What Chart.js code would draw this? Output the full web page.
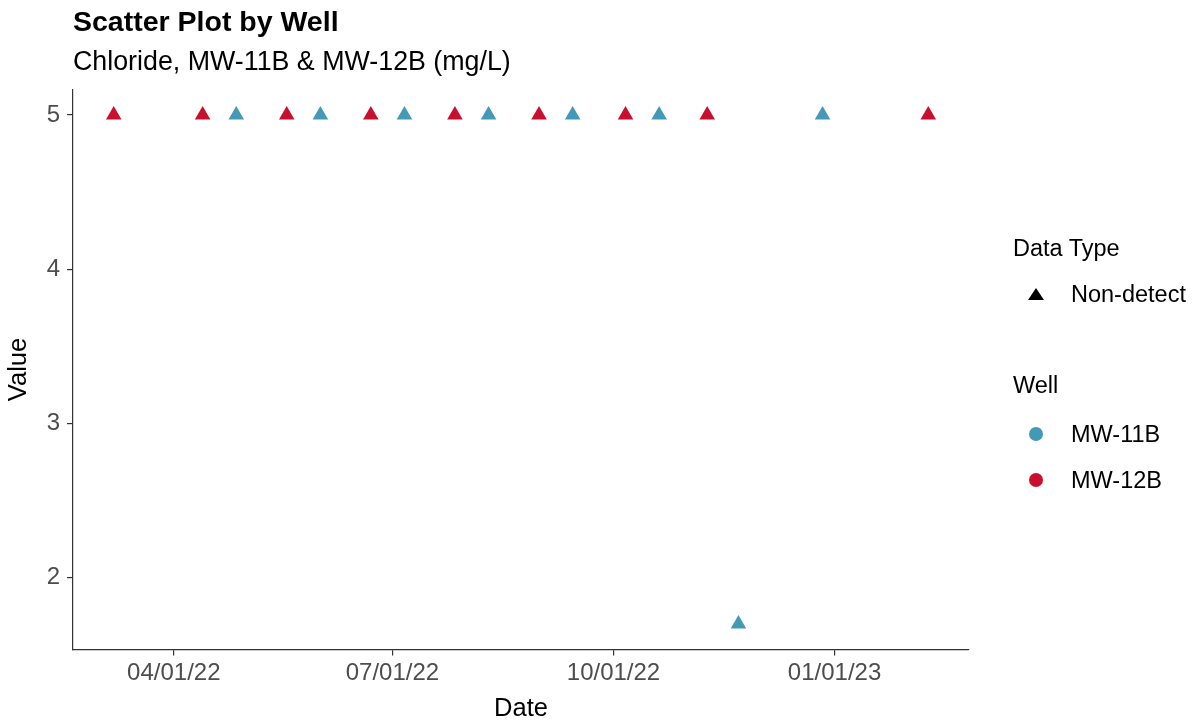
<!DOCTYPE html>
<html>
<head>
<meta charset="utf-8">
<script src="https://cdn.jsdelivr.net/npm/chart.js@4.4.0/dist/chart.umd.min.js"></script>
<style>
  html, body { margin: 0; padding: 0; background: #fff; }
  body { width: 1197px; height: 724px; position: relative; overflow: hidden;
         font-family: "Liberation Sans", Arial, sans-serif; color: #000; }
  #wrap { position: absolute; left: 0; top: 0; width: 1197px; height: 724px; }
  .title { position: absolute; left: 73px; top: 5px; font-size: 28.5px; font-weight: bold; white-space: nowrap; }
  .subtitle { position: absolute; left: 73px; top: 46px; font-size: 26.8px; white-space: nowrap; }
  .lg { position: absolute; font-size: 23.5px; white-space: nowrap; }
  .key { position: absolute; }
</style>
</head>
<body>
<div id="wrap"><canvas id="c" width="1197" height="724"></canvas></div>
<div class="title">Scatter Plot by Well</div>
<div class="subtitle">Chloride, MW-11B &amp; MW-12B (mg/L)</div>
<div id="legend"></div>
<script>
'use strict';

// данные
const wellNames = ['MW-11B', 'MW-12B'];
const wellColors = ['#4499B7', '#C8102E'];

const datesMW11B = ['2022-04-27', '2022-06-01', '2022-07-06', '2022-08-10',
    '2022-09-14', '2022-10-20', '2022-11-22', '2022-12-27'];
const valuesMW11B = [5, 5, 5, 5, 5, 5, 1.7, 5];

const datesMW12B = ['2022-03-07', '2022-04-13', '2022-05-18', '2022-06-22',
    '2022-07-27', '2022-08-31', '2022-10-06', '2022-11-09', '2023-02-09'];
const valuesMW12B = [5, 5, 5, 5, 5, 5, 5, 5, 5];

const xTickDates = ['2022-04-01', '2022-07-01', '2022-10-01', '2023-01-01'];
const yTicks = [2, 3, 4, 5];

// дни от 1970-01-01
function toDay(s) {
    let p = s.split('-').map(Number);
    return Date.UTC(p[0], p[1] - 1, p[2]) / 86400000;
}
function fmtDay(d) {
    let dt = new Date(d * 86400000);
    let mm = String(dt.getUTCMonth() + 1).padStart(2, '0');
    let dd = String(dt.getUTCDate()).padStart(2, '0');
    let yy = String(dt.getUTCFullYear()).slice(2);
    return mm + '/' + dd + '/' + yy;
}
function points(dates, values) {
    return dates.map((d, i) => ({ x: toDay(d), y: values[i] }));
}

const allDays = datesMW11B.concat(datesMW12B).map(toDay);
const allVals = valuesMW11B.concat(valuesMW12B);
const dMin = Math.min(...allDays), dMax = Math.max(...allDays);
const vMin = Math.min(...allVals), vMax = Math.max(...allVals);
// расширение как в ggplot: 5% от диапазона
const xPad = (dMax - dMin) * 0.05, yPad = (vMax - vMin) * 0.05;

const tickFont = { family: 'Liberation Sans', size: 24 };
const axisTitleFont = { family: 'Liberation Sans', size: 25.5 };
const tickColor = '#4d4d4d';

function wellDataset(i, dates, values) {
    return {
        label: wellNames[i],
        data: points(dates, values),
        backgroundColor: wellColors[i],
        borderWidth: 0,
        pointStyle: 'triangle',
        pointRadius: 9,
        pointHoverRadius: 9,
    };
}

new Chart(document.getElementById('c').getContext('2d'), {
    type: 'scatter',
    data: {
        datasets: [
            wellDataset(0, datesMW11B, valuesMW11B),
            wellDataset(1, datesMW12B, valuesMW12B),
        ],
    },
    options: {
        responsive: false,
        animation: false,
        layout: { padding: { top: 89.5, right: 228, left: 0, bottom: 0 } },
        plugins: { legend: { display: false }, tooltip: { enabled: false } },
        scales: {
            x: {
                type: 'linear',
                min: dMin - xPad,
                max: dMax + xPad,
                afterBuildTicks: (s) => { s.ticks = xTickDates.map((d) => ({ value: toDay(d) })); },
                afterFit: (s) => { s.height = 74.5; },
                ticks: { callback: (v) => fmtDay(v), color: tickColor, font: tickFont, padding: 3, maxRotation: 0, autoSkip: false },
                grid: { drawOnChartArea: false, drawTicks: true, tickLength: 6, color: '#333', lineWidth: 1.2 },
                border: { display: true, color: '#333', width: 1.2 },
                title: { display: true, text: 'Date', color: '#000', font: axisTitleFont, padding: { top: 0, bottom: 0 } },
            },
            y: {
                type: 'linear',
                min: vMin - yPad,
                max: vMax + yPad,
                afterBuildTicks: (s) => { s.ticks = yTicks.map((v) => ({ value: v })); },
                afterFit: (s) => { s.width = 73; },
                ticks: { color: tickColor, font: tickFont, padding: 7 },
                grid: { drawOnChartArea: false, drawTicks: true, tickLength: 6, color: '#333', lineWidth: 1.2 },
                border: { display: true, color: '#333', width: 1.2 },
                title: { display: true, text: 'Value', color: '#000', font: axisTitleFont, padding: { top: 4, bottom: 0 } },
            },
        },
    },
});

// легенда справа, как в ggplot
function addLegend() {
    let box = document.getElementById('legend');
    let html = '';
    html += '<div class="lg" style="left:1013px;top:235px">Data Type</div>';
    html += '<div class="key" style="left:1028px;top:288px;width:0;height:0;border-left:8px solid transparent;border-right:8px solid transparent;border-bottom:12px solid #000"></div>';
    html += '<div class="lg" style="left:1071px;top:281px">Non-detect</div>';
    html += '<div class="lg" style="left:1013px;top:372px">Well</div>';
    wellNames.forEach((name, i) => {
        let cy = 433.5 + i * 46.5;
        html += '<div class="key" style="left:1029px;top:' + (cy - 7) + 'px;width:14px;height:14px;border-radius:50%;background:' + wellColors[i] + '"></div>';
        html += '<div class="lg" style="left:1071px;top:' + (cy - 13) + 'px">' + name + '</div>';
    });
    box.innerHTML = html;
}
addLegend();
</script>
</body>
</html>
